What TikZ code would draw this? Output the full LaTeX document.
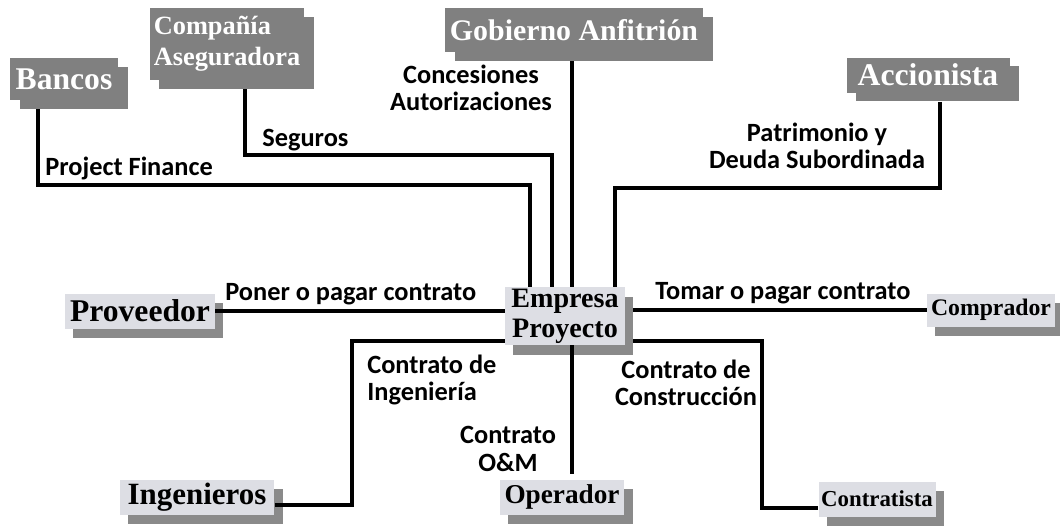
\documentclass[tikz,border=0pt]{standalone}
\usepackage{fontspec}
\setmainfont{Liberation Serif}
\newfontfamily\lblfont{Carlito}
\usetikzlibrary{positioning,calc,shadows}
\definecolor{boxdark}{RGB}{128,128,128}
\definecolor{boxlight}{RGB}{221,222,228}
\definecolor{shadegray}{RGB}{138,138,138}

\begin{document}
\begin{tikzpicture}[x=0.02cm, y=-0.02cm,
        darkbox/.style={rectangle, fill=boxdark, text=white, inner sep=1pt,
            drop shadow={shadow xshift=5.6pt, shadow yshift=-5.1pt, fill=boxdark, opacity=1}},
        lightbox/.style={rectangle, fill=boxlight, text=black, inner sep=1pt,
            drop shadow={shadow xshift=4.8pt, shadow yshift=-5.6pt, fill=shadegray, opacity=1}},
        link/.style={line width=2.2pt, black},
        lbl/.style={font=\lblfont\bfseries\fontsize{15}{15.5}\selectfont, inner sep=0pt, align=center}
    ]
        \useasboundingbox (0,0) rectangle (1060,525);

        % Upper parties
        \node[darkbox, minimum width=2.16cm, minimum height=0.84cm, font=\bfseries\fontsize{18}{19}\selectfont] (bancos) at (64,79) {Bancos};
        \node[darkbox, minimum width=3.1cm, minimum height=1.44cm, align=left, font=\bfseries\fontsize{15}{17.5}\selectfont] (aseg) at (227,44) {Compañía\\Aseguradora};
        \node[darkbox, minimum width=5.16cm, minimum height=0.88cm, font=\bfseries\fontsize{17}{18}\selectfont] (gobierno) at (574,30) {Gobierno Anfitrión};
        \node[darkbox, minimum width=3.26cm, minimum height=0.7cm, font=\bfseries\fontsize{18}{19}\selectfont] (accionista) at (928,75) {Accionista};

        % Project company
        \node[lightbox, minimum width=2.4cm, minimum height=1.16cm, align=center, font=\bfseries\fontsize{16}{17}\selectfont] (empresa) at (565,316) {Empresa\\Proyecto};

        % Lower parties
        \node[lightbox, minimum width=3.0cm, minimum height=0.7cm, font=\bfseries\fontsize{18}{19}\selectfont] (proveedor) at (140,311) {Proveedor};
        \node[lightbox, minimum width=2.56cm, minimum height=0.66cm, font=\bfseries\fontsize{13.5}{14}\selectfont] (comprador) at (991,310) {Comprador};
        \node[lightbox, minimum width=3.1cm, minimum height=0.7cm, font=\bfseries\fontsize{17.6}{18}\selectfont] (ingenieros) at (197,497) {Ingenieros};
        \node[lightbox, minimum width=2.5cm, minimum height=0.7cm, font=\bfseries\fontsize{15.5}{16}\selectfont] (operador) at (562,497) {Operador};
        \node[lightbox, minimum width=2.34cm, minimum height=0.7cm, font=\bfseries\fontsize{13}{14}\selectfont] (contratista) at (877,499) {Contratista};

        % Labels
        \node[lbl, anchor=base west] (lpf) at (45,175) {Project Finance};
        \node[lbl, anchor=base west] (lseg) at (262,146) {Seguros};
        \node[lbl] (lcon) at (471,88) {Concesiones\\Autorizaciones};
        \node[lbl] (lpat) at (817,146) {Patrimonio y\\Deuda Subordinada};
        \node[lbl, anchor=base west] (lpon) at (225,300) {Poner o pagar contrato};
        \node[lbl, anchor=base west] (ltom) at (655,299) {Tomar o pagar contrato};
        \node[lbl, align=left, anchor=west] (ling) at (367,380) {Contrato de\\Ingeniería};
        \node[lbl] (lom) at (508,449) {Contrato\\O\&M};
        \node[lbl] (lcons) at (686,383) {Contrato de\\Construcción};

        % Bend rows and columns
        \coordinate (kb) at (0,185);
        \coordinate (ka) at (0,155);
        \coordinate (kc) at (0,188);
        \coordinate (ki) at (352,0);
        \coordinate (kt) at (762,0);
        \coordinate (eb) at ($(empresa.north)+(-35,0)$);
        \coordinate (ea) at ($(empresa.north)+(-13,0)$);
        \coordinate (ec) at ($(empresa.north)+(50,0)$);
        \coordinate (ei) at ($(empresa.south west)+(0,-4)$);
        \coordinate (et) at ($(empresa.south east)+(8,-4)$);
        \coordinate (eo) at ($(empresa.south)+(7,0)$);
        \coordinate (tc) at ($(contratista.west)+(0,9)$);

        % Connectors
        \draw[link] ($(bancos.south)+(-26,9)$) |- (kb -| eb) -- (eb);
        \draw[link] ($(aseg.south)+(18,9)$) |- (ka -| ea) -- (ea);
        \draw[link] ($(gobierno.south)+(-2,9)$) -- ($(gobierno.south |- empresa.north)+(-2,0)$);
        \draw[link] ($(accionista.south)+(12,9)$) |- (kc -| ec) -- (ec);
        \draw[link] (proveedor.east) -- (proveedor.east -| empresa.west);
        \draw[link] ($(comprador.west -| empresa.east)+(8,0)$) -- (comprador.west);
        \draw[link] ($(ingenieros.east)+(0,8)$) -| (ki |- ei) -- (ei);
        \draw[link] (et) -| (kt |- tc) -- (tc);
        \draw[link] (eo) -- ($(eo |- operador.north)+(0,-5)$);
    \end{tikzpicture}
\end{document}
